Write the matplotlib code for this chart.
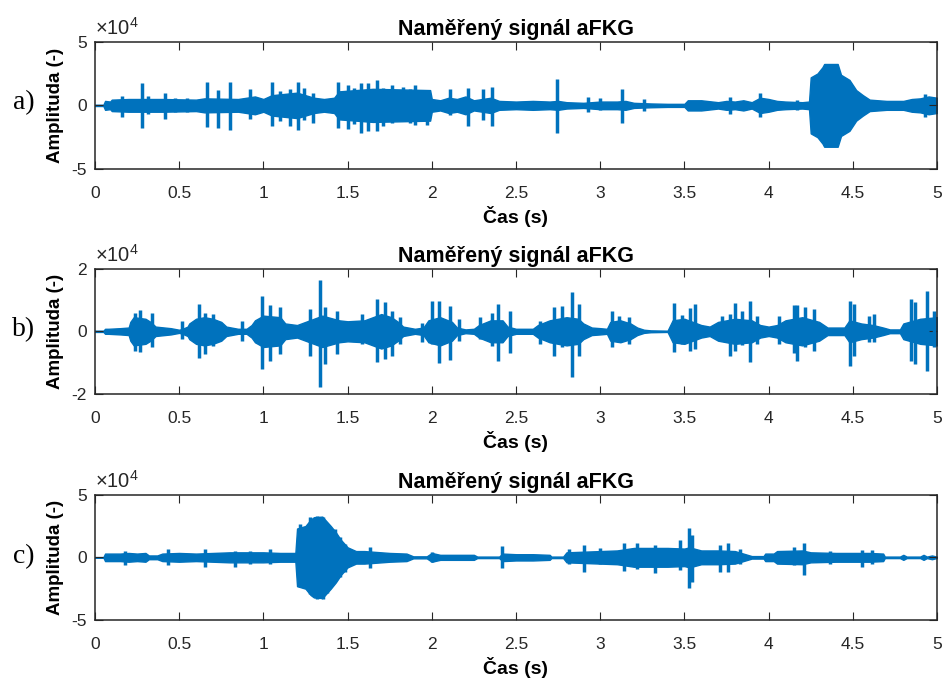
import numpy as np
import matplotlib.pyplot as plt
from matplotlib.ticker import FuncFormatter

plt.rcParams['font.family'] = ['Liberation Sans', 'DejaVu Sans']
plt.rcParams['axes.unicode_minus'] = False
plt.rcParams['mathtext.fontset'] = 'custom'
plt.rcParams['mathtext.rm'] = 'Liberation Sans'

blue = '#0072BD'
ink = '#262626'
scale = 1e4

title = 'Naměřený signál aFKG'
xlab = 'Čas (s)'
ylab = 'Amplituda (-)'
exp_label = '×10$^{4}$'
panel_tags = ['a)', 'b)', 'c)']

xticks = [0, 0.5, 1, 1.5, 2, 2.5, 3, 3.5, 4, 4.5, 5]
xtick_labels = ['0', '0.5', '1', '1.5', '2', '2.5', '3', '3.5', '4', '4.5', '5']
ylims = [5, 2, 5]

# --- signal a): envelope of the dense part (x1e4) ---
band_t_a = [0.00, 0.05, 0.06, 0.09, 0.10, 0.20, 0.40, 0.60, 0.65, 0.85, 0.95, 1.00,
            1.05, 1.20, 1.30, 1.36, 1.42, 1.45, 1.55, 1.65, 1.99, 2.00, 2.05, 2.10,
            2.15, 2.20, 2.25, 2.30, 2.35, 2.40, 2.50, 2.60, 2.70, 2.75, 2.80, 2.90,
            3.00, 3.10, 3.15, 3.20, 3.30, 3.40, 3.50, 3.52, 3.60, 3.70, 3.75, 3.80,
            3.85, 3.90, 3.95, 4.00, 4.05, 4.10, 4.20, 4.24, 4.25, 4.29, 4.32, 4.33,
            4.41, 4.43, 4.48, 4.52, 4.56, 4.60, 4.70, 4.80, 4.85, 4.90, 4.95, 5.00]
band_amp_a = [0.05, 0.05, 0.35, 0.30, 0.45, 0.50, 0.50, 0.45, 0.55, 0.50, 0.70, 0.50,
              0.80, 1.00, 0.60, 0.50, 0.60, 1.10, 1.20, 1.30, 1.20, 0.50, 0.40, 0.60,
              0.50, 0.70, 0.40, 0.50, 0.60, 0.35, 0.30, 0.35, 0.30, 0.35, 0.25, 0.20,
              0.30, 0.30, 0.35, 0.20, 0.15, 0.12, 0.12, 0.40, 0.40, 0.25, 0.35, 0.30,
              0.40, 0.25, 0.60, 0.50, 0.35, 0.30, 0.25, 0.30, 2.20, 2.50, 3.00, 3.25,
              3.25, 2.40, 2.00, 1.20, 0.80, 0.45, 0.35, 0.35, 0.50, 0.55, 0.70, 0.60]
# isolated peaks: time, height above and below zero (x1e4)
spike_t_a = [0.158, 0.277, 0.317, 0.416, 0.475, 0.545, 0.664, 0.733, 0.802, 0.921,
             1.050, 1.100, 1.160, 1.208, 1.240, 1.297, 1.446, 1.505, 1.540, 1.580,
             1.620, 1.674, 1.710, 1.763, 1.832, 1.870, 1.900, 1.970, 2.109, 2.218,
             2.307, 2.357, 2.743, 2.930, 3.000, 3.129, 3.258, 3.773, 3.951, 4.169,
             4.930]
spike_top_a = [0.73, 1.73, 0.70, 1.00, 0.55, 0.55, 1.80, 1.20, 1.80, 1.26,
               1.80, 1.10, 1.26, 1.80, 1.34, 1.00, 1.87, 1.60, 1.40, 1.73,
               1.73, 2.00, 1.40, 1.60, 1.47, 1.30, 1.60, 1.20, 1.26, 1.34,
               1.26, 1.47, 2.05, 0.63, 0.55, 1.26, 0.47, 0.63, 0.95, 0.40,
               0.90]
spike_bot_a = [0.90, 1.80, 0.70, 1.10, 0.55, 0.55, 1.73, 1.80, 1.95, 1.10,
               1.63, 1.20, 1.63, 1.95, 1.16, 1.42, 1.80, 1.89, 1.50, 2.15,
               2.00, 2.00, 1.60, 1.42, 1.15, 1.40, 1.55, 1.55, 0.76, 1.63,
               1.15, 1.63, 2.15, 0.50, 0.40, 1.36, 0.42, 0.68, 0.95, 0.40,
               0.90]

# --- signal b) ---
band_t_b = [0.00, 0.05, 0.06, 0.08, 0.15, 0.20, 0.21, 0.23, 0.30, 0.33, 0.36, 0.45,
            0.50, 0.52, 0.55, 0.56, 0.60, 0.65, 0.70, 0.75, 0.78, 0.85, 0.90, 0.93,
            0.95, 1.00, 1.10, 1.13, 1.20, 1.25, 1.30, 1.35, 1.45, 1.50, 1.60, 1.65,
            1.70, 1.76, 1.80, 1.83, 1.90, 1.95, 1.98, 2.05, 2.12, 2.15, 2.20, 2.25,
            2.28, 2.35, 2.42, 2.45, 2.50, 2.60, 2.63, 2.70, 2.80, 2.87, 2.90, 2.95,
            3.00, 3.04, 3.06, 3.12, 3.18, 3.22, 3.26, 3.30, 3.40, 3.43, 3.50, 3.55,
            3.60, 3.65, 3.70, 3.80, 3.90, 3.95, 4.00, 4.05, 4.10, 4.20, 4.30, 4.35,
            4.45, 4.48, 4.55, 4.62, 4.68, 4.72, 4.78, 4.80, 4.90, 5.00]
band_amp_b = [0.02, 0.02, 0.08, 0.08, 0.10, 0.12, 0.30, 0.45, 0.40, 0.30, 0.15, 0.10,
              0.05, 0.08, 0.15, 0.25, 0.40, 0.45, 0.40, 0.30, 0.15, 0.08, 0.08, 0.20,
              0.35, 0.50, 0.45, 0.25, 0.20, 0.30, 0.40, 0.50, 0.35, 0.32, 0.35, 0.45,
              0.55, 0.45, 0.30, 0.15, 0.08, 0.12, 0.35, 0.45, 0.30, 0.12, 0.06, 0.08,
              0.20, 0.35, 0.35, 0.15, 0.08, 0.08, 0.20, 0.35, 0.45, 0.40, 0.25, 0.12,
              0.10, 0.08, 0.30, 0.35, 0.25, 0.12, 0.05, 0.03, 0.02, 0.35, 0.40, 0.30,
              0.20, 0.15, 0.30, 0.40, 0.35, 0.20, 0.15, 0.20, 0.35, 0.45, 0.30, 0.12,
              0.12, 0.35, 0.25, 0.20, 0.12, 0.06, 0.06, 0.25, 0.40, 0.45]
spike_t_b = [0.238, 0.267, 0.337, 0.515, 0.620, 0.653, 0.703, 0.871, 0.990, 1.040,
             1.099, 1.277, 1.337, 1.367, 1.436, 1.585, 1.674, 1.723, 1.763, 1.812,
             1.941, 2.000, 2.040, 2.109, 2.159, 2.288, 2.357, 2.396, 2.466, 2.644,
             2.723, 2.773, 2.832, 2.872, 3.070, 3.109, 3.169, 3.436, 3.486, 3.536,
             3.565, 3.724, 3.773, 3.803, 3.843, 3.892, 3.932, 4.060, 4.149, 4.169,
             4.219, 4.268, 4.486, 4.506, 4.595, 4.625, 4.843, 4.872, 4.942, 4.981]
spike_top_b = [0.60, 0.68, 0.60, 0.32, 0.87, 0.60, 0.55, 0.34, 1.12, 0.85,
               0.77, 0.71, 1.64, 0.77, 0.66, 0.55, 1.03, 0.93, 0.66, 0.45,
               0.28, 0.96, 0.96, 0.82, 0.39, 0.45, 0.60, 0.87, 0.66, 0.34,
               0.79, 0.82, 1.24, 0.87, 0.66, 0.50, 0.45, 0.89, 0.53, 0.74,
               0.87, 0.50, 0.55, 0.89, 0.66, 0.98, 0.50, 0.50, 0.85, 0.85,
               0.77, 0.71, 0.96, 0.87, 0.50, 0.55, 1.03, 0.93, 1.28, 0.66]
spike_bot_b = [0.64, 0.67, 0.51, 0.25, 0.85, 0.72, 0.46, 0.30, 1.20, 0.94,
               0.72, 0.78, 1.77, 1.04, 0.72, 0.40, 0.99, 0.88, 0.78, 0.40,
               0.35, 0.40, 1.02, 0.91, 0.30, 0.25, 0.46, 0.96, 0.70, 0.40,
               0.78, 0.51, 1.45, 0.78, 0.51, 0.35, 0.40, 0.67, 0.40, 0.64,
               0.56, 0.30, 0.78, 0.62, 0.45, 0.99, 0.40, 0.40, 0.70, 0.94,
               0.51, 0.62, 1.10, 0.78, 0.35, 0.35, 0.94, 1.04, 1.26, 0.51]

# --- signal c) ---
band_t_c = [0.00, 0.05, 0.06, 0.15, 0.20, 0.25, 0.30, 0.32, 0.37, 0.40, 0.50, 0.60,
            0.70, 0.80, 0.90, 1.00, 1.10, 1.19, 1.20, 1.25, 1.28, 1.30, 1.35, 1.40,
            1.43, 1.46, 1.50, 1.55, 1.60, 1.65, 1.75, 1.85, 1.89, 1.97, 2.00, 2.05,
            2.20, 2.25, 2.27, 2.40, 2.42, 2.50, 2.60, 2.70, 2.71, 2.78, 2.80, 2.90,
            3.00, 3.10, 3.20, 3.30, 3.40, 3.50, 3.53, 3.60, 3.70, 3.80, 3.85, 3.90,
            3.97, 3.98, 4.03, 4.05, 4.20, 4.25, 4.40, 4.50, 4.60, 4.68, 4.69, 4.78,
            4.80, 4.82, 4.88, 4.90, 4.92, 4.94, 4.97, 5.00]
band_amp_c = [0.02, 0.02, 0.30, 0.30, 0.35, 0.30, 0.35, 0.15, 0.15, 0.30, 0.35, 0.30,
              0.35, 0.40, 0.40, 0.40, 0.35, 0.35, 2.30, 2.50, 3.00, 3.20, 3.25, 2.50,
              2.00, 1.40, 0.80, 0.50, 0.50, 0.45, 0.35, 0.30, 0.08, 0.08, 0.35, 0.20,
              0.20, 0.20, 0.06, 0.06, 0.30, 0.25, 0.25, 0.20, 0.06, 0.06, 0.40, 0.45,
              0.50, 0.55, 0.75, 0.75, 0.75, 0.70, 0.80, 0.55, 0.55, 0.50, 0.30, 0.10,
              0.10, 0.30, 0.30, 0.50, 0.55, 0.40, 0.35, 0.35, 0.35, 0.30, 0.06, 0.06,
              0.20, 0.06, 0.06, 0.06, 0.20, 0.06, 0.15, 0.05]
spike_t_c = [0.178, 0.436, 0.653, 0.832, 0.921, 1.040, 1.218, 1.277, 1.317, 1.357,
             1.377, 1.426, 1.456, 1.485, 1.634, 2.000, 2.416, 2.813, 2.902, 3.000,
             3.140, 3.218, 3.327, 3.476, 3.526, 3.545, 3.714, 3.757, 3.833, 4.149,
             4.210, 4.366, 4.555, 4.614]
spike_top_c = [0.53, 0.64, 0.64, 0.53, 0.50, 0.64, 2.70, 3.24, 3.30, 3.24,
               2.70, 2.23, 1.65, 1.10, 0.80, 0.40, 0.90, 0.64, 0.98, 0.72,
               1.17, 1.12, 0.98, 1.38, 2.31, 1.78, 0.98, 1.12, 0.64, 0.85,
               1.12, 0.50, 0.60, 0.55]
spike_bot_c = [0.61, 0.61, 0.80, 0.80, 0.50, 0.50, 2.34, 2.90, 3.35, 3.35,
               2.87, 1.80, 1.54, 1.14, 0.88, 0.40, 0.88, 0.50, 1.14, 0.55,
               1.06, 0.90, 1.28, 1.00, 2.42, 1.94, 1.14, 1.14, 0.50, 0.60,
               1.41, 0.50, 0.74, 0.55]

signals = [
    (band_t_a, band_amp_a, spike_t_a, spike_top_a, spike_bot_a),
    (band_t_b, band_amp_b, spike_t_b, spike_top_b, spike_bot_b),
    (band_t_c, band_amp_c, spike_t_c, spike_top_c, spike_bot_c),
]

fig = plt.figure(figsize=(9.44, 6.86), dpi=100)
boxes = [[0.1006, 0.7536, 0.892, 0.1856],
         [0.1006, 0.4257, 0.892, 0.1827],
         [0.1006, 0.0962, 0.892, 0.1827]]
tag_y = [0.850, 0.519, 0.188]

for box, sig, lim, tag, ty in zip(boxes, signals, ylims, panel_tags, tag_y):
    ax = fig.add_axes(box)
    bt, ba, st, stop, sbot = [np.asarray(v, dtype=float) for v in sig]
    ax.fill_between(bt, -ba * scale, ba * scale, color=blue, lw=1.0)
    ax.vlines(st, -sbot * scale, stop * scale, color=blue, lw=2.5)

    ax.set_xlim(0, 5)
    ax.set_ylim(-lim * scale, lim * scale)
    ax.set_xticks(xticks)
    ax.set_xticklabels(xtick_labels)
    ax.set_yticks([-lim * scale, 0, lim * scale])
    ax.yaxis.set_major_formatter(FuncFormatter(lambda v, pos: '%d' % round(v / scale)))
    ax.text(0.0, 1.025, exp_label, transform=ax.transAxes, fontsize=14.5,
            color=ink, ha='left', va='bottom')

    ax.tick_params(direction='in', length=6, width=0.8, colors=ink,
                   labelsize=12.5, top=True, right=True)
    ax.tick_params(axis='x', pad=12)
    ax.tick_params(axis='y', pad=6)
    for sp in ax.spines.values():
        sp.set_color(ink)
        sp.set_linewidth(1.1)

    ax.set_title(title, fontsize=15.5, fontweight='bold', pad=5)
    ax.set_xlabel(xlab, fontsize=14, fontweight='bold', labelpad=4)
    ax.set_ylabel(ylab, fontsize=13.5, fontweight='bold', labelpad=5)
    fig.text(0.0254, ty, tag, family='Liberation Serif', fontsize=20,
             ha='center', va='center')

fig.savefig('out.png', dpi=100)
